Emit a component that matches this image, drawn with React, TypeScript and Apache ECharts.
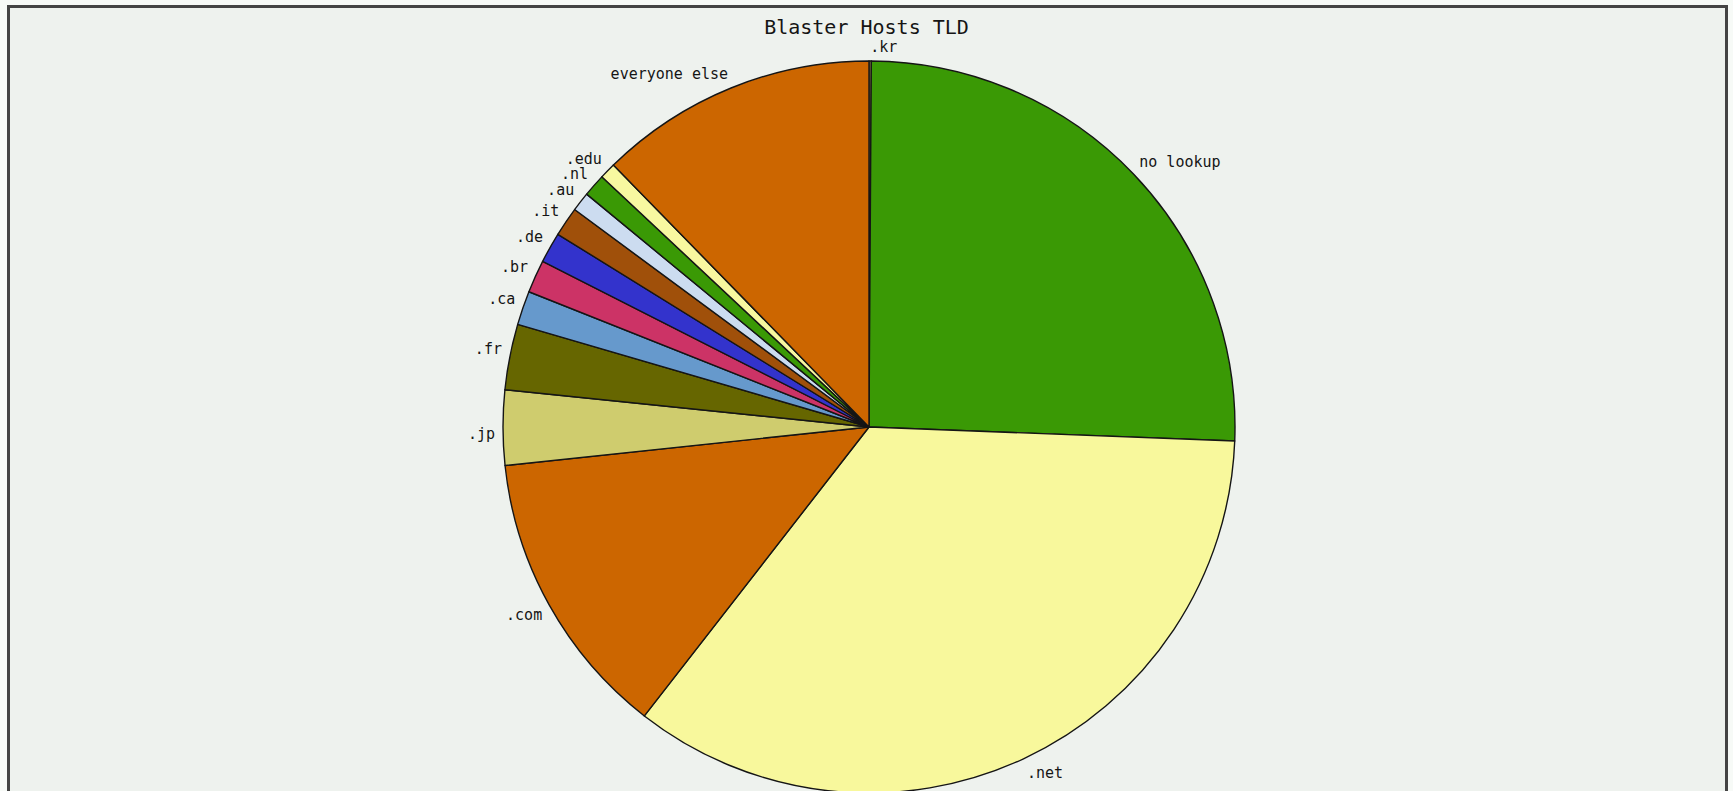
import React, { useEffect, useRef } from "react";
import * as echarts from "echarts";

const categories = [".kr", "no lookup", ".net", ".com", ".jp", ".fr", ".ca", ".br", ".de", ".it", ".au", ".nl", ".edu", "everyone else"];
const shares = [0.1, 25.5, 34.9, 12.8, 3.3, 2.9, 1.5, 1.45, 1.35, 1.3, 0.85, 1.0, 0.72, 12.3];
const sliceColors = ["#cfcc6e", "#3a9905", "#f8f89c", "#cc6600", "#cfcc6e", "#666600", "#6699cc", "#cc3366", "#3333cc", "#a0500a", "#ccdcf0", "#3a9905", "#f8f8a0", "#cc6600"];
const titleText = "Blaster Hosts TLD";

export default function App() {
  const ref = useRef<HTMLDivElement>(null);
  useEffect(() => {
    if (!ref.current) return;
    const chart = echarts.init(ref.current, undefined, { renderer: "svg" });
    const cx = 869;
    const cy = 427;
    const r = 366;
    const gap = 8;
    const total = shares.reduce((a, b) => a + b, 0);
    const mids: number[] = [];
    let acc = 0;
    shares.forEach((v) => {
      mids.push(((acc + v / 2) / total) * Math.PI * 2);
      acc += v;
    });
    chart.setOption({
      animation: false,
      backgroundColor: "#f7faf7",
      title: {
        text: titleText,
        left: "center",
        top: 12,
        textStyle: { fontFamily: "DejaVu Sans Mono", fontSize: 20, fontWeight: "normal", color: "#151515" },
      },
      graphic: [
        {
          type: "rect",
          z: -10,
          shape: { x: 8.5, y: 6.5, width: 1718, height: 820 },
          style: { fill: "#eef2ee", stroke: "#444444", lineWidth: 3 },
        },
      ],
      series: [
        {
          type: "pie",
          center: [cx, cy],
          radius: r,
          startAngle: 90,
          clockwise: true,
          avoidLabelOverlap: false,
          minAngle: 0,
          itemStyle: { borderColor: "#151515", borderWidth: 1.4 },
          emphasis: { disabled: true },
          label: {
            show: true,
            position: "outside",
            formatter: "{b}",
            fontFamily: "DejaVu Sans Mono",
            fontSize: 15,
            lineHeight: 13,
            color: "#151515",
          },
          labelLine: { show: false, length: 0, length2: 0 },
          labelLayout: (params: any) => {
            const a = mids[params.dataIndex];
            const s = Math.sin(a);
            const c = Math.cos(a);
            return {
              x: cx + (r + gap) * s,
              y: cy - (r + gap) * c,
              align: s >= 0 ? "left" : "right",
              verticalAlign: c >= 0 ? "bottom" : "top",
            };
          },
          data: categories.map((name, i) => ({
            name,
            value: shares[i],
            itemStyle: { color: sliceColors[i] },
          })),
        },
      ],
    });
    return () => chart.dispose();
  }, []);
  return <div ref={ref} style={{ position: "fixed", left: 0, top: 0, width: 1733, height: 791 }} />;
}
